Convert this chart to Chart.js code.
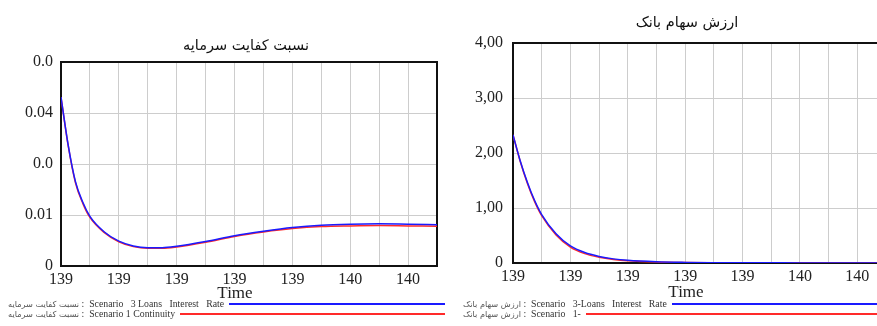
<!DOCTYPE html>
<html>
<head>
<meta charset="utf-8">
<script src="https://cdn.jsdelivr.net/npm/chart.js@4.4.1/dist/chart.umd.min.js"></script>
<style>
  html, body { margin: 0; padding: 0; background: #fff; overflow: hidden; width: 877px; height: 326px; }
  #stage { position: relative; width: 877px; height: 326px; overflow: hidden; font-family: 'Liberation Serif', 'DejaVu Serif', serif; }
  .panel { position: absolute; top: 0; }
  #capitalCanvas { left: 0; }
  #shareCanvas { left: 445px; }
  .title { position: absolute; white-space: nowrap; transform: translate(-50%, -50%); color: #111; font-family: 'DejaVu Sans', sans-serif; }
  .axisTitle { position: absolute; transform: translate(-50%, -50%); font-size: 17px; color: #222; }
  .legend { position: absolute; top: 299px; }
  .row { display: flex; align-items: center; height: 10px; }
  .lbl { white-space: pre; font-size: 9.8px; color: #333; line-height: 10px; }
  .fa { font-size: 8.2px; color: #555; font-family: 'DejaVu Sans', sans-serif; }
  .rule { flex: 1; height: 1.5px; margin-left: 5px; }
</style>
</head>
<body>
<div id="stage">
  <canvas id="capitalCanvas" class="panel" width="445" height="290"></canvas>
  <canvas id="shareCanvas" class="panel" width="445" height="290"></canvas>
  <div class="title" style="left:246px; top:45px; font-size:14.5px;">نسبت کفایت سرمایه</div>
  <div class="title" style="left:687px; top:22px; font-size:14.5px;">ارزش سهام بانک</div>
  <div class="axisTitle" style="left:235px; top:293px;">Time</div>
  <div class="axisTitle" style="left:686px; top:292px;">Time</div>
  <div id="capitalLegend" class="legend" style="left:8px; width:437px;"></div>
  <div id="shareLegend" class="legend" style="left:463px; width:414px;"></div>
</div>
<script>
// Simulation time steps (x) and the two scenario runs for each variable
const timeSteps = [0, 0.25, 0.5, 0.75, 1, 1.5, 2, 2.5, 3, 3.5, 4, 5, 6, 7, 8, 9, 10, 11, 12, 13];

const capitalRatioLoansRate = [0.0497, 0.0355, 0.0248, 0.0188, 0.0146, 0.0100, 0.0073, 0.0059, 0.0054, 0.0054, 0.0058, 0.0072, 0.0089, 0.0102, 0.0113, 0.0120, 0.0123, 0.0124, 0.0123, 0.0121];
const capitalRatioContinuity = [0.0497, 0.0353, 0.0245, 0.0185, 0.0143, 0.0098, 0.0071, 0.0057, 0.0052, 0.0052, 0.0056, 0.0070, 0.0087, 0.0100, 0.0110, 0.0116, 0.0118, 0.0119, 0.0118, 0.0117];

const shareValueLoansRate = [2.33, 1.86, 1.47, 1.14, 0.88, 0.53, 0.31, 0.19, 0.12, 0.075, 0.048, 0.022, 0.011, 0.006, 0.004, 0.003, 0.002, 0.002, 0.002, 0.002];
const shareValueContinuity = [2.33, 1.85, 1.45, 1.12, 0.86, 0.51, 0.29, 0.17, 0.105, 0.065, 0.040, 0.016, 0.007, 0.004, 0.003, 0.002, 0.002, 0.002, 0.002, 0.002];

// Axis ticks
const xTickLabels = ['139', '139', '139', '139', '139', '140', '140'];
const capitalTickValues = [0, 0.015, 0.03, 0.045, 0.06];
const capitalTickLabels = ['0', '0.01', '0.0', '0.04', '0.0'];
const shareTickValues = [0, 1, 2, 3, 4];
const shareTickLabels = ['0', '1,00', '2,00', '3,00', '4,00'];

// Legend entries
const capitalVarName = 'نسبت کفایت سرمایه';
const shareVarName = 'ارزش سهام بانک';
const capitalRunNames = ['Scenario   3 Loans   Interest   Rate', 'Scenario 1 Continuity'];
const shareRunNames = ['Scenario   3-Loans   Interest   Rate', 'Scenario   1-'];
const runColors = ['#1a1aff', '#ff2a2a'];

const toPoints = (ys) => timeSteps.map((t, i) => ({ x: t, y: ys[i] }));

// Black frame around the plot area
const framePlugin = {
  id: 'frame',
  beforeDatasetsDraw(chart) {
    const { ctx, chartArea: a } = chart;
    ctx.save();
    ctx.strokeStyle = '#111';
    ctx.lineWidth = 2;
    ctx.strokeRect(a.left, a.top, a.right - a.left, a.bottom - a.top);
    ctx.restore();
  }
};

function buildChart(canvasId, opts) {
  const tickFont = { family: "'Liberation Serif', serif", size: 16 };
  // dataset 0 is painted last, so the blue run sits on top of the red one
  return new Chart(document.getElementById(canvasId), {
    type: 'line',
    data: {
      datasets: [
        { data: toPoints(opts.first), borderColor: runColors[0], borderWidth: 1.5, pointRadius: 0, cubicInterpolationMode: 'monotone', fill: false },
        { data: toPoints(opts.second), borderColor: runColors[1], borderWidth: 1.5, pointRadius: 0, cubicInterpolationMode: 'monotone', fill: false }
      ]
    },
    options: {
      responsive: false,
      animation: false,
      events: [],
      layout: { autoPadding: false, padding: opts.padding },
      plugins: { legend: { display: false }, title: { display: false }, tooltip: { enabled: false } },
      scales: {
        x: {
          type: 'linear', min: 0, max: 13,
          afterBuildTicks: (s) => { s.ticks = timeSteps.filter(t => Number.isInteger(t)).map(v => ({ value: v })); },
          afterFit: (s) => { s.height = opts.xHeight; s.paddingLeft = 0; s.paddingRight = 0; },
          ticks: {
            autoSkip: false, maxRotation: 0, padding: 4, color: '#222', font: tickFont,
            callback: (v) => (v % 2 === 0 ? xTickLabels[v / 2] : '')
          },
          grid: { color: '#cdcdcd', lineWidth: 1, drawTicks: false },
          border: { display: false }
        },
        y: {
          type: 'linear', min: opts.yTicks[0], max: opts.yTicks[opts.yTicks.length - 1],
          afterBuildTicks: (s) => { s.ticks = opts.yTicks.map(v => ({ value: v })); },
          afterFit: (s) => { s.width = opts.yWidth; s.paddingTop = 0; s.paddingBottom = 0; },
          ticks: {
            padding: opts.yPad, color: '#222', font: tickFont,
            callback: (v, i) => opts.yLabels[i]
          },
          grid: { color: '#cdcdcd', lineWidth: 1, drawTicks: false },
          border: { display: false }
        }
      }
    },
    plugins: [framePlugin]
  });
}

buildChart('capitalCanvas', {
  first: capitalRatioLoansRate, second: capitalRatioContinuity,
  yTicks: capitalTickValues, yLabels: capitalTickLabels,
  padding: { top: 62, right: 8, left: 0, bottom: 0 },
  yWidth: 61, yPad: 8, xHeight: 24
});

buildChart('shareCanvas', {
  first: shareValueLoansRate, second: shareValueContinuity,
  yTicks: shareTickValues, yLabels: shareTickLabels,
  padding: { top: 43, right: 4, left: 0, bottom: 0 },
  yWidth: 68, yPad: 10, xHeight: 27
});

// Legend rows: variable name, run name, then a rule in the run colour
function buildLegend(containerId, varName, runNames) {
  const box = document.getElementById(containerId);
  runNames.forEach((name, i) => {
    const row = document.createElement('div');
    row.className = 'row';
    const lbl = document.createElement('span');
    lbl.className = 'lbl';
    const fa = document.createElement('span');
    fa.className = 'fa';
    fa.textContent = varName;
    lbl.appendChild(fa);
    lbl.appendChild(document.createTextNode(' :  ' + name));
    const rule = document.createElement('span');
    rule.className = 'rule';
    rule.style.background = runColors[i];
    row.appendChild(lbl);
    row.appendChild(rule);
    box.appendChild(row);
  });
}
buildLegend('capitalLegend', capitalVarName, capitalRunNames);
buildLegend('shareLegend', shareVarName, shareRunNames);
</script>
</body>
</html>
